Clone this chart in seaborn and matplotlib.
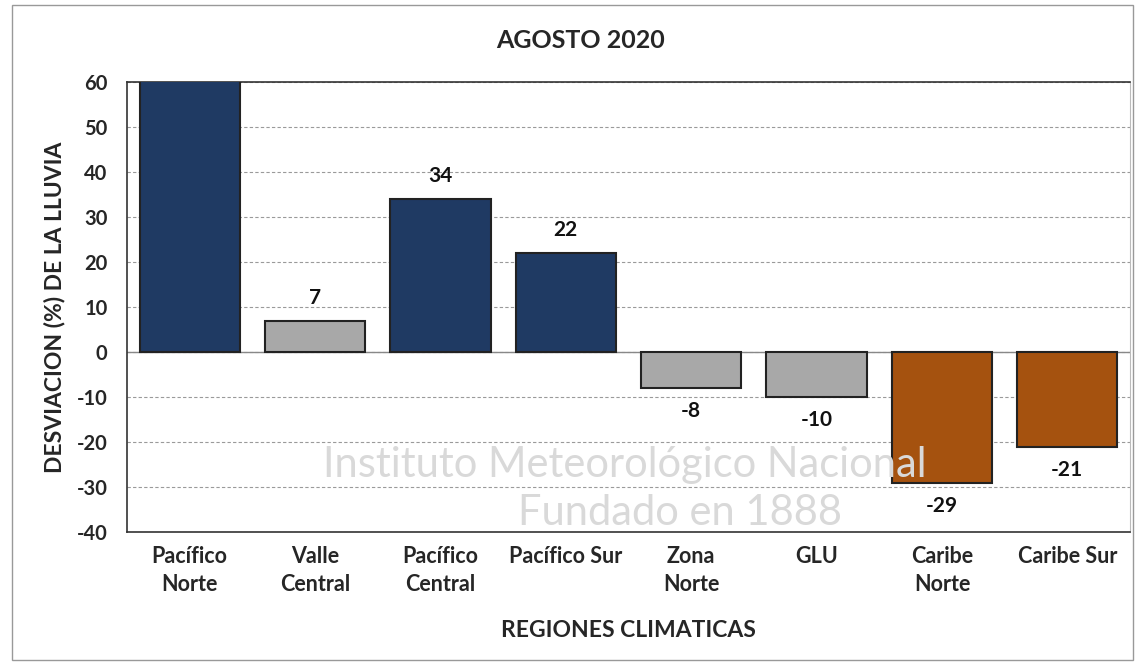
import matplotlib
matplotlib.use("Agg")
import matplotlib.pyplot as plt
import matplotlib.patches as mpatches
import seaborn as sns
import pandas as pd

# data
regiones = ["Pacífico\nNorte", "Valle\nCentral", "Pacífico\nCentral", "Pacífico Sur",
            "Zona\nNorte", "GLU", "Caribe\nNorte", "Caribe Sur"]
desviacion = [75, 7, 34, 22, -8, -10, -29, -21]  # first bar runs off the top of the chart
colores = ["#1F3A63", "#A8A8A8", "#1F3A63", "#1F3A63",
           "#A8A8A8", "#A8A8A8", "#A5520F", "#A5520F"]
yticks = [-40, -30, -20, -10, 0, 10, 20, 30, 40, 50, 60]

df = pd.DataFrame({"region": regiones, "dev": desviacion})

sns.set_style("white")
plt.rcParams["font.family"] = ["Lato", "DejaVu Sans"]
BOLD = "bold"

fig = plt.figure(figsize=(11.36, 6.66), dpi=100)
W, H = 1136, 666
ax = fig.add_axes([127 / W, 1 - 532 / H, (1130 - 127) / W, (532 - 82) / H])

# watermark
fig.text(625 / W, 1 - 465 / H, "Instituto Meteorológico Nacional", fontsize=30,
         color="#D9D9D9", ha="center", va="center", zorder=0)
fig.text(680 / W, 1 - 513 / H, "Fundado en 1888", fontsize=30,
         color="#D9D9D9", ha="center", va="center", zorder=0)

sns.barplot(data=df, x="region", y="dev", hue="region", palette=colores,
            legend=False, width=0.8, edgecolor="#222222", linewidth=1.5,
            saturation=1, ax=ax, zorder=3)

# value labels (the bar that runs off the top has none shown)
for i, v in enumerate(desviacion):
    if v > 60:
        continue
    off = 5.0 if v >= 0 else -5.2
    ax.text(i, v + off, str(v), ha="center", va="center", fontsize=15,
            fontweight=BOLD, color="#111111", zorder=4)

ax.set_ylim(-40, 60)
ax.set_xlim(-0.5, 7.5)
ax.set_yticks(yticks)
ax.set_yticklabels([str(t) for t in yticks], fontsize=14.5, fontweight=BOLD)
ax.tick_params(axis="x", labelsize=15.5, length=0, pad=10)
for lab in ax.get_xticklabels():
    lab.set_fontweight(BOLD)
    lab.set_linespacing(1.4)
ax.tick_params(axis="y", length=8, width=1, color="#888888", pad=6)
ax.yaxis.grid(True, linestyle=(0, (3, 2)), color="#9A9A9A", linewidth=0.8)
ax.set_axisbelow(True)
ax.axhline(0, color="#888888", linewidth=1, zorder=2)
ax.patch.set_alpha(0)

for s in ["left", "bottom", "top"]:
    ax.spines[s].set_color("#333333")
    ax.spines[s].set_linewidth(1.2)
ax.spines["right"].set_color("#BBBBBB")

ax.set_xlabel("REGIONES CLIMATICAS", fontsize=16.5, fontweight=BOLD, labelpad=18)
ax.set_ylabel("DESVIACION (%) DE LA LLUVIA", fontsize=16.5, fontweight=BOLD, labelpad=8)
fig.text(581 / W, 1 - 40 / H, "AGOSTO 2020", fontsize=18, fontweight=BOLD,
         ha="center", va="center")

# outer frame
fig.patches.append(mpatches.Rectangle((12 / W, 1 - 660 / H), (1133 - 12) / W, (660 - 5) / H,
                                      transform=fig.transFigure, fill=False,
                                      edgecolor="#999999", linewidth=1))

fig.savefig("out.png", dpi=100)
